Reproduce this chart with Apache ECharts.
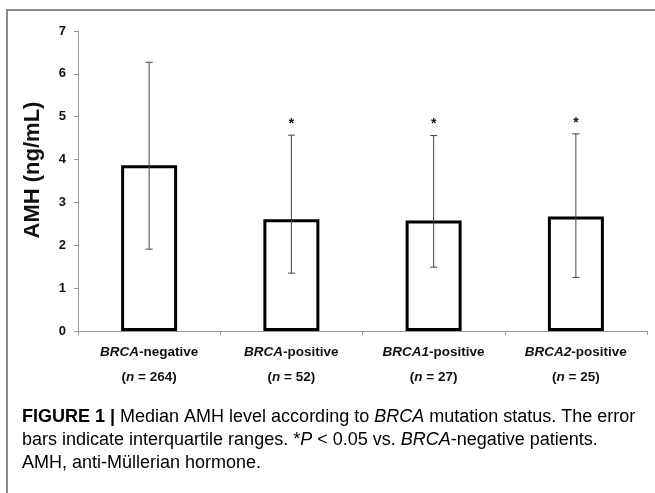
<!DOCTYPE html>
<html>
<head>
<meta charset="utf-8">
<script src="https://cdn.jsdelivr.net/npm/echarts@6/dist/echarts.min.js"></script>
<style>
html,body{margin:0;padding:0;background:#fff;}
#chart{width:655px;height:493px;}
</style>
</head>
<body>
<div id="chart"></div>
<script>
// ---- data ----
const categories = ['BRCA-negative', 'BRCA-positive', 'BRCA1-positive', 'BRCA2-positive'];
const sampleN = [264, 52, 27, 25];
const medians = [3.87, 2.61, 2.58, 2.67];
const q1 = [1.91, 1.35, 1.49, 1.25];
const q3 = [6.27, 4.57, 4.56, 4.60];
const sig = ['', '*', '*', '*'];
const yTicks = [0, 1, 2, 3, 4, 5, 6, 7];
const yName = 'AMH (ng/mL)';
const captionLines = [
  '{b|FIGURE 1 | }{n|Median AMH level according to }{i|BRCA}{n| mutation status. The error}',
  '{n|bars indicate interquartile ranges. *}{i|P}{n| < 0.05 vs. }{i|BRCA}{n|-negative patients.}',
  '{n|AMH, anti-Müllerian hormone.}'
];

const chart = echarts.init(document.getElementById('chart'), null, {renderer: 'canvas'});
const FONT = 'Liberation Sans, Arial, sans-serif';

const captionRich = {
  b: {fontFamily: FONT, fontSize: 18, fontWeight: 'bold', color: '#222'},
  n: {fontFamily: FONT, fontSize: 18, color: '#3a3a3a'},
  i: {fontFamily: FONT, fontSize: 18, fontStyle: 'italic', color: '#3a3a3a'}
};

const option = {
  backgroundColor: '#fff',
  animation: false,
  grid: {left: 78, right: 8, top: 31, bottom: 162, containLabel: false},
  xAxis: {
    type: 'category',
    data: categories,
    axisLine: {lineStyle: {color: '#999', width: 1}},
    axisTick: {show: true, length: 4, lineStyle: {color: '#999'}},
    axisLabel: {
      margin: 9,
      interval: 0,
      formatter: function (v, i) {
        const k = v.indexOf('-');
        return '{bi|' + v.slice(0, k) + '}{b|' + v.slice(k) + '}\n{b|(}{bi|n}{b| = ' + sampleN[i] + ')}';
      },
      rich: {
        b: {fontFamily: FONT, fontSize: 13.5, fontWeight: 'bold', color: '#111', lineHeight: 25},
        bi: {fontFamily: FONT, fontSize: 13.5, fontWeight: 'bold', fontStyle: 'italic', color: '#111', lineHeight: 25}
      }
    }
  },
  yAxis: {
    type: 'value',
    min: yTicks[0],
    max: yTicks[yTicks.length - 1],
    interval: 1,
    axisLine: {show: true, lineStyle: {color: '#999', width: 1}},
    axisTick: {show: true, length: 4, lineStyle: {color: '#999'}},
    splitLine: {show: false},
    axisLabel: {fontFamily: FONT, fontSize: 13, fontWeight: 'bold', color: '#111', margin: 12}
  },
  series: [
    {
      type: 'bar',
      data: medians,
      barWidth: 56,
      itemStyle: {color: '#fff', borderColor: '#000', borderWidth: 3}
    },
    {
      type: 'custom',
      data: categories.map((c, i) => [i, q1[i], q3[i]]),
      z: 5,
      renderItem: function (params, api) {
        const x = api.value(0);
        const lo = api.coord([x, api.value(1)]);
        const hi = api.coord([x, api.value(2)]);
        const hw = 3.5;
        const st = {stroke: '#444', lineWidth: 1};
        const children = [
          {type: 'line', shape: {x1: lo[0], y1: lo[1], x2: hi[0], y2: hi[1]}, style: st},
          {type: 'line', shape: {x1: lo[0] - hw, y1: lo[1], x2: lo[0] + hw, y2: lo[1]}, style: st},
          {type: 'line', shape: {x1: hi[0] - hw, y1: hi[1], x2: hi[0] + hw, y2: hi[1]}, style: st}
        ];
        const s = sig[params.dataIndex];
        if (s) {
          children.push({
            type: 'text',
            style: {text: s, x: hi[0], y: hi[1] - 4, align: 'center', verticalAlign: 'bottom',
              font: 'bold 14px ' + FONT, fill: '#111'}
          });
        }
        return {type: 'group', children: children};
      }
    }
  ],
  graphic: [
    {type: 'line', shape: {x1: 7, y1: 10, x2: 655, y2: 10}, style: {stroke: '#888', lineWidth: 2}, silent: true},
    {type: 'line', shape: {x1: 7, y1: 9, x2: 7, y2: 493}, style: {stroke: '#888', lineWidth: 2}, silent: true},
    {type: 'text', x: 33, y: 170, rotation: Math.PI / 2, silent: true,
      style: {text: yName, x: 0, y: 0, align: 'center', verticalAlign: 'middle',
        font: 'bold 22px ' + FONT, fill: '#111'}}
  ].concat(captionLines.map((ln, k) => ({
    type: 'text',
    left: 22,
    top: 408 + k * 23,
    style: {rich: captionRich, text: ln, fontFamily: FONT, fontSize: 18}
  })))
};
chart.setOption(option);
</script>
</body>
</html>
